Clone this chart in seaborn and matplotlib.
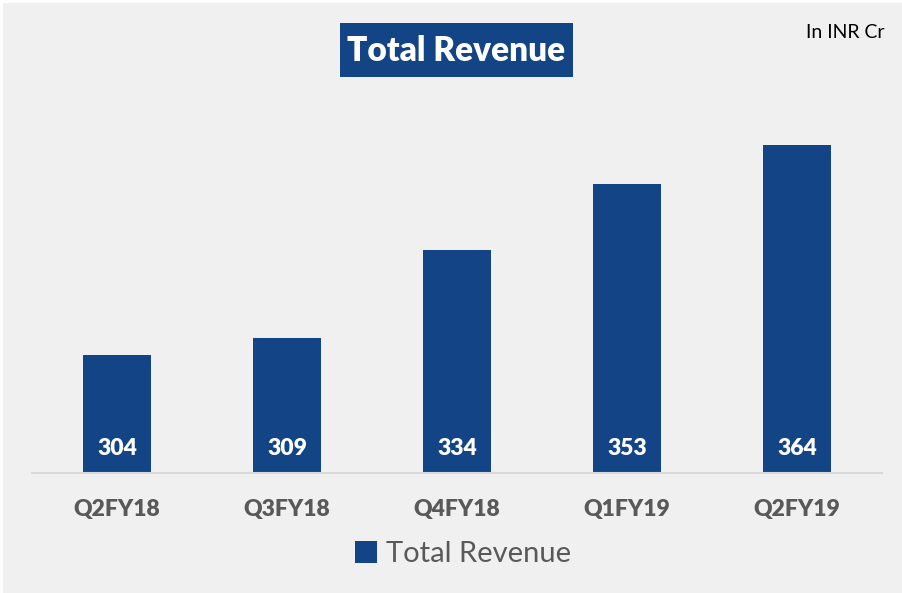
import matplotlib
matplotlib.use("Agg")
import matplotlib.pyplot as plt
from matplotlib.patches import Rectangle
import seaborn as sns
import pandas as pd

quarters = ["Q2FY18", "Q3FY18", "Q4FY18", "Q1FY19", "Q2FY19"]
revenue = [304, 309, 334, 353, 364]
series_name = "Total Revenue"
unit_note = "In INR Cr"

BLUE = "#134486"
BG = "#F0F0F0"
GREY_TXT = "#595959"

sns.set_theme(style="white")
plt.rcParams["font.family"] = ["Lato", "DejaVu Sans"]

df = pd.DataFrame({"quarter": quarters, "revenue": revenue})

W, H = 902, 593
fig = plt.figure(figsize=(W / 100, H / 100), dpi=100, facecolor=BG)

# thin white margin on the left and top edges
fig.patches.append(Rectangle((0, 0), 3 / W, 1, transform=fig.transFigure,
                             facecolor="white", edgecolor="none", zorder=0))
fig.patches.append(Rectangle((0, 1 - 3 / H), 1, 3 / H, transform=fig.transFigure,
                             facecolor="white", edgecolor="none", zorder=0))

ax = fig.add_axes([32 / W, 120 / H, 850 / W, 384 / H])
ax.set_facecolor(BG)

sns.barplot(data=df, x="quarter", y="revenue", color=BLUE, width=0.4,
            saturation=1, ax=ax, label=series_name, linewidth=0)
handles, labels = ax.get_legend_handles_labels()
if ax.get_legend() is not None:
    ax.get_legend().remove()

ax.set_xlim(-0.5, len(quarters) - 0.5)
ax.set_ylim(270.3, 380)
ax.set_xlabel("")
ax.set_ylabel("")
ax.set_yticks([])
for side in ["top", "right", "left"]:
    ax.spines[side].set_visible(False)
ax.spines["bottom"].set_color("#D9D9D9")
ax.spines["bottom"].set_linewidth(1.5)
ax.tick_params(axis="x", length=0, pad=19)
for lbl in ax.get_xticklabels():
    lbl.set_fontsize(16.5)
    lbl.set_fontweight("heavy")
    lbl.set_color(GREY_TXT)

# value labels near the bottom of each bar
for i, v in enumerate(revenue):
    ax.text(i, 270.3 + 24 / 3.5, f"{v}", ha="center", va="center",
            color="white", fontsize=16.5, fontweight="heavy")

# title box
fig.patches.append(Rectangle((340 / W, 1 - 77 / H), 233 / W, 54 / H,
                             transform=fig.transFigure, facecolor=BLUE,
                             edgecolor="none", zorder=1))
fig.text(456.5 / W, 1 - 51 / H, series_name, ha="center", va="center",
         color="white", fontsize=24, fontweight="heavy", zorder=2)

fig.text(884 / W, 1 - 32 / H, unit_note, ha="right", va="center",
         color="black", fontsize=14)

fig.legend(handles, labels, loc="center", bbox_to_anchor=(463 / W, 1 - 554 / H),
           frameon=False, fontsize=21, handlelength=0.75, handleheight=0.75,
           handletextpad=0.3, labelcolor=GREY_TXT)

fig.savefig("out.png", dpi=100, facecolor=BG)
